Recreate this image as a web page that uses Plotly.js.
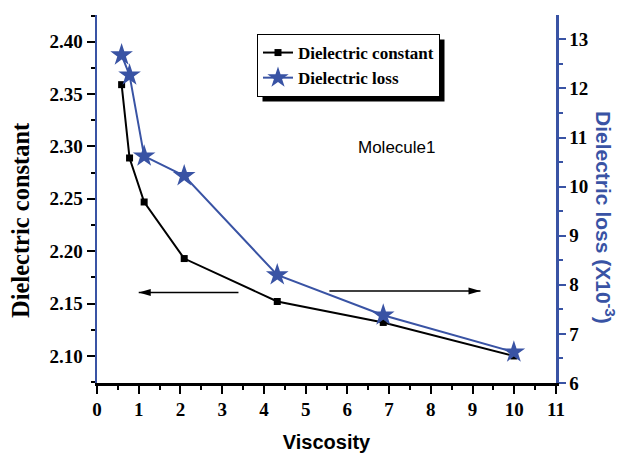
<!DOCTYPE html>
<html><head><meta charset="utf-8">
<script src="https://cdn.plot.ly/plotly-3.0.1.min.js"></script>
<style>body{margin:0;background:#fff}#c{width:617px;height:453px}</style>
</head><body><div id="c"></div>
<script>
const viscosity = [0.59, 0.78, 1.13, 2.09, 4.32, 6.86, 9.99];
const dielectricConstant = [2.359, 2.289, 2.247, 2.193, 2.152, 2.132, 2.100];
const dielectricLoss = [12.68, 12.27, 10.62, 10.22, 8.20, 7.38, 6.63];
const xTicks = [0,1,2,3,4,5,6,7,8,9,10,11];
const yTicks = [2.10,2.15,2.20,2.25,2.30,2.35,2.40];
const y2Ticks = [6,7,8,9,10,11,12,13];

const BLUE = 'rgb(57,83,164)';
const M = {l:97, r:61, t:15, b:70};
const PW = 617 - M.l - M.r, PH = 453 - M.t - M.b;
function tf() { return {family:'Liberation Serif', size:19, weight:'bold', color:'#000'}; }

const traces = [
  {x: viscosity, y: dielectricConstant, name:'Dielectric constant', type:'scatter', mode:'lines+markers',
   line:{color:'#000', width:2}, marker:{symbol:'square', size:7, color:'#000'}, xaxis:'x', yaxis:'y'},
  {x: viscosity, y: dielectricLoss, name:'Dielectric loss', type:'scatter', mode:'lines+markers',
   line:{color:BLUE, width:2}, marker:{symbol:'star', size:17, color:BLUE}, xaxis:'x', yaxis:'y2'}
];

function arrow(x0, x1, y) {
  const dir = x1 > x0 ? 1 : -1;
  return [
    {type:'line', xref:'x', yref:'y', x0:x0, x1:x1, y0:y, y1:y, line:{color:'#000', width:1.5}},
    {type:'path', xref:'x', yref:'y', xsizemode:'pixel', ysizemode:'pixel', xanchor:x1, yanchor:y,
     path: dir > 0 ? 'M 0 0 L -12 -3.5 L -12 3.5 Z' : 'M 0 0 L 12 -3.5 L 12 3.5 Z',
     fillcolor:'#000', line:{width:0}}
  ];
}

const layout = {
  width:617, height:453,
  margin:M,
  font:{family:'Liberation Serif', size:19, weight:'bold', color:'#000'},
  paper_bgcolor:'#fff', plot_bgcolor:'#fff',
  showlegend:true,
  legend:{x:(257-M.l)/PW, y:(453-M.b-34)/PH, xanchor:'left', yanchor:'top', bgcolor:'#fff', bordercolor:'#000', borderwidth:1,
    font:{family:'Liberation Serif', size:17, weight:'bold', color:'#000'}, tracegroupgap:0, itemwidth:30},
  xaxis:{range:[0,11], tickvals:xTicks, ticktext:xTicks.map(String), showgrid:false, zeroline:false,
    showline:true, linecolor:'#000', linewidth:2.5, ticks:'outside', ticklen:8, tickwidth:2, tickcolor:'#000',
    minor:{dtick:0.5, ticklen:4, tickwidth:2, tickcolor:'#000', showgrid:false},
    tickfont:tf(), anchor:'y',
    title:{text:'Viscosity', font:{family:'Liberation Sans', size:20, weight:'bold', color:'#000'}, standoff:30}},
  xaxis2:{range:[0,11], overlaying:'x', side:'top', anchor:'y', tickvals:xTicks, showticklabels:false,
    showgrid:false, zeroline:false, showline:true, linecolor:'#000', linewidth:2.5, ticks:'inside', ticklen:8,
    tickwidth:2, tickcolor:'#000', minor:{dtick:0.5, ticklen:4, tickwidth:2, tickcolor:'#000', showgrid:false}},
  yaxis:{range:[2.0742, 2.4255], tickvals:yTicks, ticktext:yTicks.map(v=>v.toFixed(2)), showgrid:false, zeroline:false,
    showline:true, linecolor:BLUE, linewidth:2.5, ticks:'outside', ticklen:8, tickwidth:2, tickcolor:'#000',
    minor:{dtick:0.025, ticklen:4, tickwidth:2, tickcolor:'#000', showgrid:false},
    tickfont:tf()},
  yaxis2:{range:[6, 13.495], overlaying:'y', side:'right', anchor:'x', tickvals:y2Ticks, ticktext:y2Ticks.map(String),
    showgrid:false, zeroline:false, showline:true, linecolor:BLUE, linewidth:2.5, ticks:'outside', ticklen:7,
    tickwidth:2, tickcolor:BLUE, minor:{dtick:0.5, ticklen:4, tickwidth:2, tickcolor:BLUE, showgrid:false},
    tickfont:tf()},
  shapes: [].concat(arrow(3.39, 1.0, 2.1605), arrow(5.57, 9.19, 2.162)),
  annotations:[
    {xref:'paper', yref:'paper', x:(20-M.l)/PW, y:(453-M.b-220)/PH, text:'Dielectric constant', showarrow:false,
     textangle:-90, font:{family:'Liberation Serif', size:24.5, weight:'bold', color:'#000'}, xanchor:'center', yanchor:'middle'},
    {xref:'paper', yref:'paper', x:(605-M.l)/PW, y:(453-M.b-217)/PH, text:'Dielectric loss (X10<sup>-3</sup>)', showarrow:false,
     textangle:90, font:{family:'Liberation Sans', size:21, weight:'bold', color:BLUE}, xanchor:'center', yanchor:'middle'},
    {xref:'x', yref:'y', x:7.19, y:2.2986, text:'Molecule1', showarrow:false,
     font:{family:'Liberation Sans', size:17, weight:'normal', color:'#000'}}
  ]
};
Plotly.newPlot('c', traces, layout, {displayModeBar:false, staticPlot:true}).then(gd => {
  const bg = gd.querySelector('.legend rect.bg');
  if (!bg) return;
  const root = gd.getBoundingClientRect();
  const r = bg.getBoundingClientRect();
  const left = r.left - root.left, top = r.top - root.top, w = r.width, h = r.height;
  const off = 5;
  const sh = {type:'rect', xref:'paper', yref:'paper', layer:'above',
    x0:(left + off - M.l)/PW, x1:(left + w + off - M.l)/PW,
    y0:(453 - M.b - (top + h + off))/PH, y1:(453 - M.b - (top + off))/PH,
    fillcolor:'#000', line:{width:0}};
  return Plotly.relayout(gd, {shapes: layout.shapes.concat([sh])});
});
</script></body></html>
